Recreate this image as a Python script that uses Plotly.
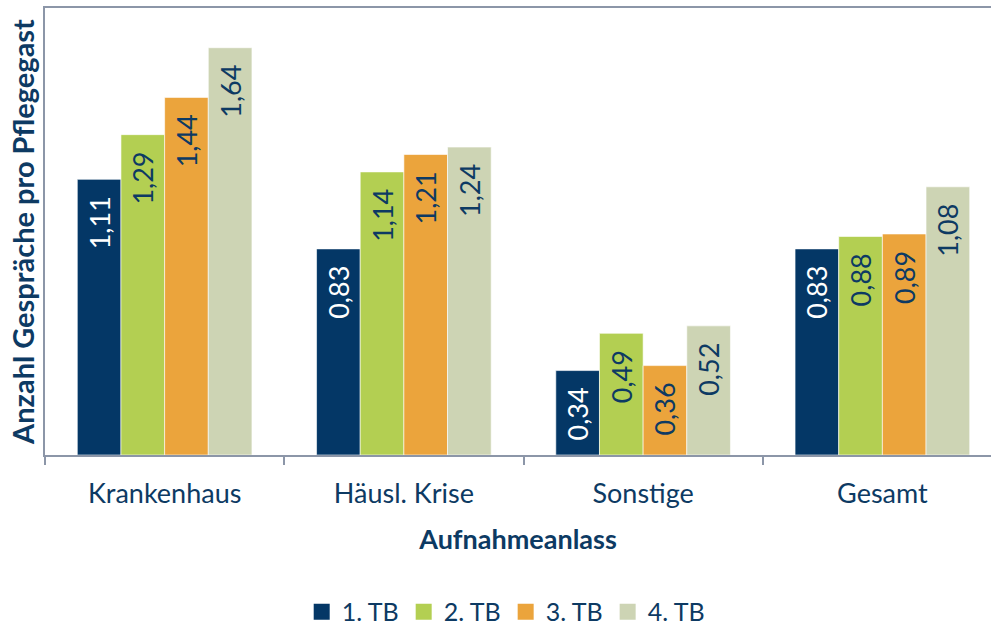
import plotly.graph_objects as go

categories = ["Krankenhaus", "Häusl. Krise", "Sonstige", "Gesamt"]
series_names = ["1. TB", "2. TB", "3. TB", "4. TB"]
tb1 = [1.11, 0.83, 0.34, 0.83]
tb2 = [1.29, 1.14, 0.49, 0.88]
tb3 = [1.44, 1.21, 0.36, 0.89]
tb4 = [1.64, 1.24, 0.52, 1.08]
values = [tb1, tb2, tb3, tb4]

colors = ["#043766", "#b3cf52", "#eba43c", "#cdd4b4"]
text_colors = ["#ffffff", "#0d3a63", "#0d3a63", "#0d3a63"]
navy = "#0d3a63"
font_family = "Lato"

fig = go.Figure()
for name, vals, c, tc in zip(series_names, values, colors, text_colors):
    fig.add_trace(go.Bar(
        x=categories, y=vals, name=name, showlegend=False,
        marker=dict(color=c, line=dict(color="rgba(255,255,255,0.6)", width=1)),
        texttemplate="%{y:.2f}\u00a0\u00a0", textposition="inside", insidetextanchor="end",
        textangle=-90, textfont=dict(color=tc, size=27, family=font_family),
    ))
# legend entries with larger square swatches
for name, c in zip(series_names, colors):
    fig.add_trace(go.Scatter(
        x=[None], y=[None], name=name, mode="markers",
        marker=dict(symbol="square", size=18, color=c), hoverinfo="skip",
    ))

fig.update_layout(
    width=991, height=627,
    barmode="group", bargap=0.27, bargroupgap=0,
    separators=",.",
    plot_bgcolor="white", paper_bgcolor="white",
    margin=dict(l=45, r=0, t=8, b=172, autoexpand=False),
    font=dict(family=font_family, color=navy, size=26),
    uniformtext=dict(minsize=20, mode="show"),
    xaxis=dict(
        range=[-0.5, 3.454], showline=True, linecolor="#8c96a8", linewidth=2,
        mirror=True, ticks="outside", tickson="boundaries", ticklen=8,
        tickcolor="#8c96a8", tickwidth=2, automargin=False, ticklabelstandoff=14,
        tickfont=dict(size=27, color=navy, family=font_family),
        title=dict(text="<b>Aufnahmeanlass</b>", font=dict(size=27, color=navy), standoff=22),
    ),
    yaxis=dict(
        range=[0, 1.8], showline=True, linecolor="#8c96a8", linewidth=2,
        showgrid=False, showticklabels=False, ticks="", zeroline=False, automargin=False,
        title=dict(text="<b>Anzahl Gespräche pro Pflegegast</b>", font=dict(size=29, color=navy), standoff=0),
    ),
    legend=dict(orientation="h", x=0.487, xanchor="center", y=-0.351, yanchor="middle",
                font=dict(size=25, color=navy), itemwidth=30, traceorder="normal"),
)

fig.write_html("out.html", config={"displayModeBar": False},
               post_script="document.body.style.margin='0';")
